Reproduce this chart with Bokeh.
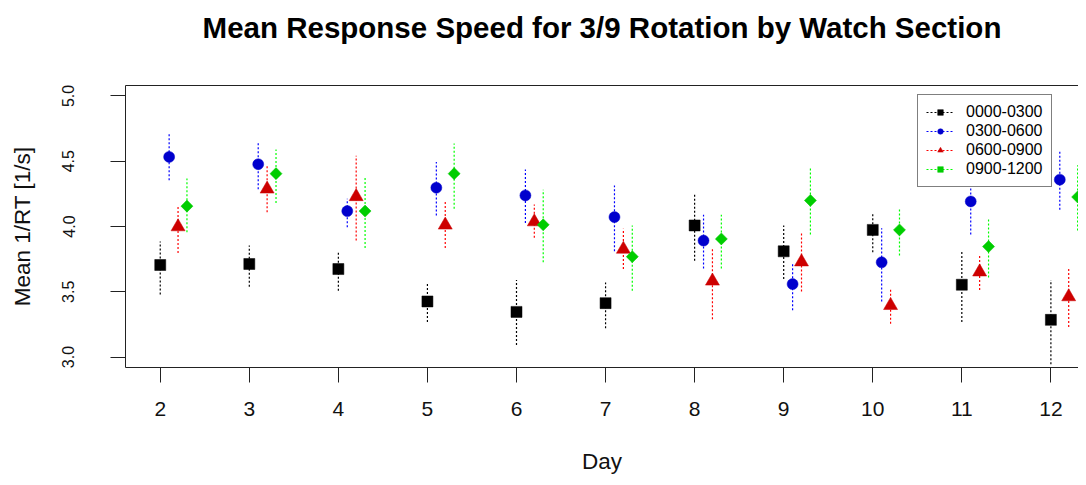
import math
from bokeh.plotting import figure
from bokeh.models import (Range1d, LinearAxis, FixedTicker, PrintfTickFormatter,
                          Legend, LegendItem, ColumnDataSource, Title)
from bokeh.embed import file_html
from bokeh.resources import INLINE

# ---- data ----
days = [2, 3, 4, 5, 6, 7, 8, 9, 10, 11, 12]
sections = ["0000-0300", "0300-0600", "0600-0900", "0900-1200"]
offsets = [0.0, 0.1, 0.2, 0.3]

mean_0000 = [3.705, 3.713, 3.674, 3.426, 3.346, 3.413, 4.008, 3.810, 3.974, 3.554, 3.285]
low_0000  = [3.480, 3.538, 3.508, 3.269, 3.092, 3.221, 3.738, 3.597, 3.802, 3.269, 2.944]
high_0000 = [3.885, 3.854, 3.815, 3.572, 3.590, 3.572, 4.246, 4.008, 4.110, 3.815, 3.590]

mean_0300 = [4.533, 4.477, 4.118, 4.297, 4.238, 4.072, 3.892, 3.559, 3.726, 4.192, 4.359]
low_0300  = [4.354, 4.285, 3.995, 4.085, 4.026, 3.810, 3.679, 3.359, 3.426, 3.938, 4.128]
high_0300 = [4.713, 4.649, 4.213, 4.495, 4.436, 4.315, 4.090, 3.718, 3.987, 4.440, 4.577]

mean_0600 = [3.998, 4.287, 4.229, 4.011, 4.036, 3.826, 3.582, 3.729, 3.395, 3.652, 3.462]
low_0600  = [3.797, 4.110, 3.892, 3.836, 3.913, 3.674, 3.290, 3.503, 3.256, 3.513, 3.231]
high_0600 = [4.160, 4.469, 4.541, 4.195, 4.169, 3.982, 3.841, 3.962, 3.515, 3.782, 3.682]

mean_0900 = [4.156, 4.405, 4.118, 4.405, 4.013, 3.769, 3.905, 4.200, 3.974, 3.846, 4.226]
low_0900  = [3.956, 4.180, 3.836, 4.136, 3.726, 3.508, 3.679, 3.938, 3.777, 3.610, 3.969]
high_0900 = [4.367, 4.590, 4.385, 4.635, 4.282, 4.008, 4.090, 4.444, 4.141, 4.064, 4.469]

y_ticks = [3.0, 3.5, 4.0, 4.5, 5.0]
x_ticks = days
title_text = "Mean Response Speed for 3/9 Rotation by Watch Section"

means = [mean_0000, mean_0300, mean_0600, mean_0900]
lows = [low_0000, low_0300, low_0600, low_0900]
highs = [high_0000, high_0300, high_0600, high_0900]

# ---- styles ----
line_colors = ["#000000", "#0000FF", "#FF0000", "#00FF00"]
marker_colors = ["#000000", "#0000CD", "#CD0000", "#00CD00"]
markers = ["square", "circle", "triangle", "square"]
sizes = [11, 11, 14, 8.5]
angles = [0, 0, 0, math.pi / 4]
FONT = "Liberation Sans"

p = figure(width=1078, height=477, output_backend="svg", toolbar_location=None,
           x_range=Range1d(1.61, 12.31), y_range=Range1d(2.92, 5.08),
           min_border_left=125, min_border_right=0, min_border_top=85,
           min_border_bottom=110, x_axis_location=None, y_axis_location=None)
p.outline_line_color = None
p.xgrid.visible = False
p.ygrid.visible = False
p.background_fill_color = "white"
p.border_fill_color = "white"

# top border line of the box
top = LinearAxis(ticker=FixedTicker(ticks=[]), major_label_text_font_size="0px",
                 axis_line_color="#222222", major_tick_line_color=None,
                 minor_tick_line_color=None, major_tick_out=0, major_label_standoff=0)
p.add_layout(top, "above")
# blank spacer between box and title
spacer = Title(text=" ", text_font_size="10px", standoff=22)
p.add_layout(spacer, "above")

p.title.text = title_text
p.title.align = "center"
p.title.text_font = FONT
p.title.text_font_size = "29.5px"
p.title.text_font_style = "bold"
p.title.text_color = "black"
p.title.standoff = 14

# axes
xaxis = LinearAxis(ticker=FixedTicker(ticks=x_ticks), axis_label="Day")
yaxis = LinearAxis(ticker=FixedTicker(ticks=y_ticks), axis_label="Mean 1/RT [1/s]",
                   formatter=PrintfTickFormatter(format="%.1f"))
for ax in (xaxis, yaxis):
    ax.major_tick_out = 15
    ax.major_tick_in = 0
    ax.minor_tick_line_color = None
    ax.axis_line_color = "#222222"
    ax.major_tick_line_color = "#222222"
    ax.axis_label_text_font = FONT
    ax.axis_label_text_font_style = "normal"
    ax.axis_label_text_font_size = "22.5px"
    ax.axis_label_text_color = "#111111"
    ax.major_label_text_font = FONT
    ax.major_label_text_color = "#111111"
xaxis.major_label_text_font_size = "21px"
xaxis.major_label_standoff = 19
xaxis.axis_label_standoff = 30
yaxis.major_label_text_font_size = "16px"
yaxis.major_label_orientation = "vertical"
yaxis.major_label_standoff = 36
yaxis.axis_label_standoff = 25
p.add_layout(xaxis, "below")
p.add_layout(yaxis, "left")

items = []
for k in range(4):
    xs = [d + offsets[k] for d in days]
    src = ColumnDataSource(dict(x=xs, m=means[k], lo=lows[k], hi=highs[k]))
    seg = p.segment(x0="x", y0="lo", x1="x", y1="hi", source=src, line_color=line_colors[k],
                    line_width=1.2, line_dash="2 2")
    sr = p.scatter(x="x", y="m", source=src, marker=markers[k], size=sizes[k],
                   angle=angles[k], fill_color=marker_colors[k], line_color=marker_colors[k],
                   line_width=0.5)
    items.append(LegendItem(label=sections[k], renderers=[seg, sr]))

legend = Legend(items=items, location=(792, 180))
legend.glyph_width = 28
legend.glyph_height = 14
legend.label_height = 14
legend.spacing = 1
legend.padding = 8
legend.margin = 0
legend.label_standoff = 12
legend.label_text_font = FONT
legend.label_text_font_size = "16px"
legend.label_text_color = "black"
legend.border_line_color = "black"
legend.border_line_width = 1.2
legend.background_fill_color = "white"
legend.background_fill_alpha = 1.0
p.add_layout(legend, "center")

open("out.html", "w").write(file_html(p, INLINE))
